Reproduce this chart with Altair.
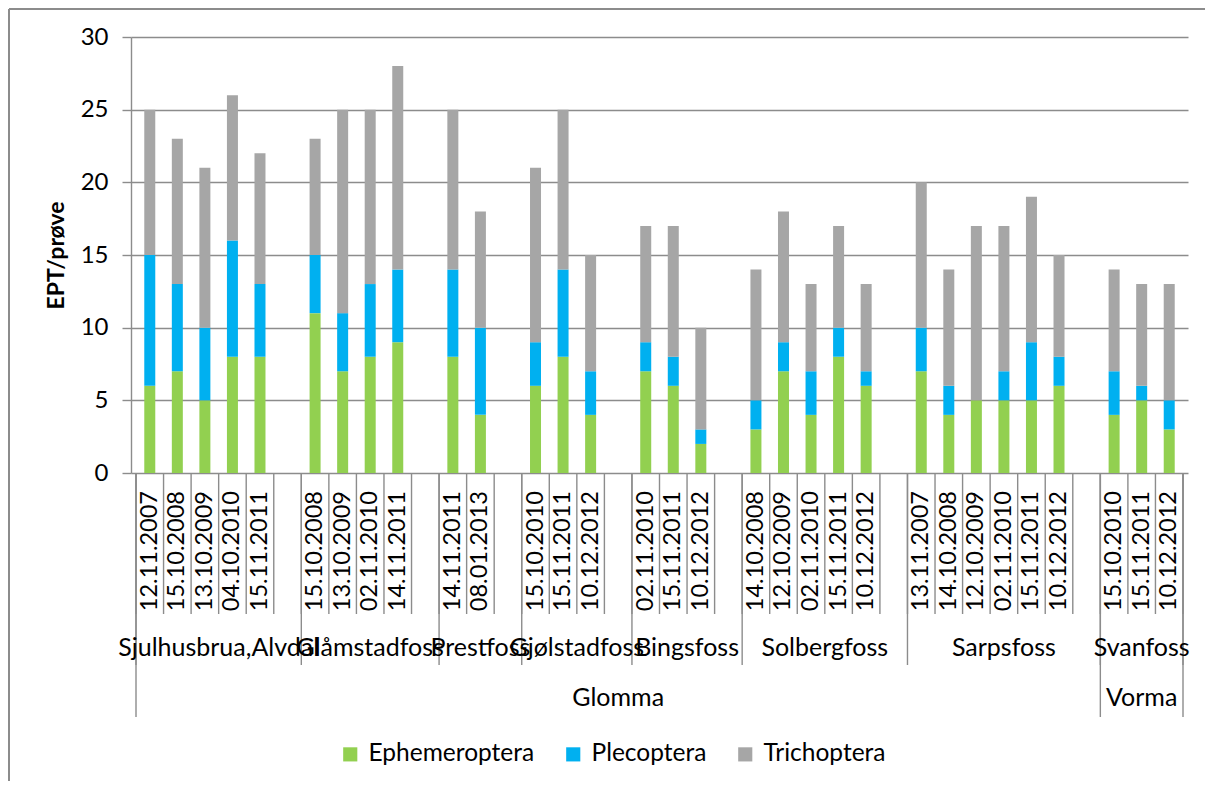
import altair as alt
import pandas as pd

# ---- data ----
stations = ["Sjulhusbrua,Alvdal", "Glåmstadfoss", "Prestfoss", "Gjølstadfoss",
            "Bingsfoss", "Solbergfoss", "Sarpsfoss", "Svanfoss"]
station_river = ["Glomma", "Glomma", "Glomma", "Glomma",
                 "Glomma", "Glomma", "Glomma", "Vorma"]
station_dates = [
    ["12.11.2007", "15.10.2008", "13.10.2009", "04.10.2010", "15.11.2011"],
    ["15.10.2008", "13.10.2009", "02.11.2010", "14.11.2011"],
    ["14.11.2011", "08.01.2013"],
    ["15.10.2010", "15.11.2011", "10.12.2012"],
    ["02.11.2010", "15.11.2011", "10.12.2012"],
    ["14.10.2008", "12.10.2009", "02.11.2010", "15.11.2011", "10.12.2012"],
    ["13.11.2007", "14.10.2008", "12.10.2009", "02.11.2010", "15.11.2011", "10.12.2012"],
    ["15.10.2010", "15.11.2011", "10.12.2012"],
]
ephemeroptera = [6, 7, 5, 8, 8, 11, 7, 8, 9, 8, 4, 6, 8, 4, 7, 6, 2,
                 3, 7, 4, 8, 6, 7, 4, 5, 5, 5, 6, 4, 5, 3]
plecoptera = [9, 6, 5, 8, 5, 4, 4, 5, 5, 6, 6, 3, 6, 3, 2, 2, 1,
              2, 2, 3, 2, 1, 3, 2, 0, 2, 4, 2, 3, 1, 2]
trichoptera = [10, 10, 11, 10, 9, 8, 14, 12, 14, 11, 8, 12, 11, 8, 8, 9, 7,
               9, 9, 6, 7, 6, 10, 8, 12, 10, 10, 7, 7, 7, 8]
taxa = ["Ephemeroptera", "Plecoptera", "Trichoptera"]
colors = ["#92D050", "#00B0F0", "#A6A6A6"]
yticks = [0, 5, 10, 15, 20, 25, 30]

# ---- build tables (slot layout: one blank category after each station) ----
bar_rows, date_rows, station_rows = [], [], []
group_bounds, river_bounds = [], []
slot = 0
k = 0
prev_river = None
for si, st in enumerate(stations):
    start = slot
    group_bounds.append(start)
    if station_river[si] != prev_river:
        river_bounds.append((start, station_river[si]))
        prev_river = station_river[si]
    for d in station_dates[si]:
        c = slot + 0.5
        date_rows.append({"pos": c, "date": d})
        for ti, (t, vals) in enumerate(zip(taxa, [ephemeroptera, plecoptera, trichoptera])):
            bar_rows.append({"pos": c, "date": d, "station": st, "taxon": t,
                             "value": vals[k], "ord": ti})
        k += 1
        slot += 1
    if si < len(stations) - 1:
        slot += 1
    station_rows.append({"pos": (start + slot) / 2, "station": st})
n_slots = slot
group_bounds.append(n_slots)

river_rows = []
rb = [b for b, _ in river_bounds] + [n_slots]
for i, (b, name) in enumerate(river_bounds):
    river_rows.append({"pos": (b + rb[i + 1]) / 2, "river": name})

bars = pd.DataFrame(bar_rows)
dates_df = pd.DataFrame(date_rows)
stations_df = pd.DataFrame(station_rows)
rivers_df = pd.DataFrame(river_rows)
slot_b = pd.DataFrame({"b": list(range(n_slots + 1))})
group_b = pd.DataFrame({"b": group_bounds})
river_b = pd.DataFrame({"b": rb})

FONT = "Lato"
W, H = 1057, 436
xs = alt.Scale(domain=[0, n_slots], nice=False, zero=False)
GRAY = "#8C8C8C"

bar_layer = alt.Chart(bars).mark_bar(size=11).encode(
    x=alt.X("pos:Q", scale=xs, axis=None),
    y=alt.Y("value:Q", stack="zero",
            scale=alt.Scale(domain=[0, 30], nice=False),
            axis=alt.Axis(values=yticks, title="EPT/prøve", grid=True,
                          gridColor=GRAY, gridWidth=1.4,
                          domainColor=GRAY, domainWidth=1.4,
                          tickColor=GRAY, tickWidth=1.4, tickSize=9,
                          labelFont=FONT, labelFontSize=24, labelColor="#000000",
                          labelPadding=14,
                          titleFont=FONT, titleFontSize=23, titleFontWeight="bold",
                          titleColor="#000000", titleAngle=270,
                          titleX=-75, titleY=218,
                          titleAlign="center", titleBaseline="middle")),
    color=alt.Color("taxon:N",
                    scale=alt.Scale(domain=taxa, range=colors),
                    legend=alt.Legend(title=None, orient="none", direction="horizontal",
                                      legendX=207, legendY=705,
                                      symbolType="square", symbolSize=200,
                                      symbolStrokeWidth=0,
                                      labelFont=FONT, labelFontSize=24.5,
                                      labelColor="#000000", labelOffset=6,
                                      labelLimit=400,
                                      columnPadding=26, padding=0)),
    order=alt.Order("ord:Q", sort="ascending"),
)

date_sep = alt.Chart(slot_b).mark_rule(color=GRAY, strokeWidth=1.4).encode(
    x=alt.X("b:Q", scale=xs), y=alt.value(H), y2=alt.value(577))
group_sep = alt.Chart(group_b).mark_rule(color=GRAY, strokeWidth=1.4).encode(
    x=alt.X("b:Q", scale=xs), y=alt.value(H), y2=alt.value(628))
river_sep = alt.Chart(river_b).mark_rule(color=GRAY, strokeWidth=1.4).encode(
    x=alt.X("b:Q", scale=xs), y=alt.value(H), y2=alt.value(680))

date_text = alt.Chart(dates_df).mark_text(
    angle=270, align="right", baseline="middle", font=FONT, fontSize=23.5,
    color="#000000").encode(
    x=alt.X("pos:Q", scale=xs), y=alt.value(454), text="date:N")

station_text = alt.Chart(stations_df).mark_text(
    align="center", baseline="middle", font=FONT, fontSize=25,
    color="#000000").encode(
    x=alt.X("pos:Q", scale=xs), y=alt.value(611), text="station:N")

river_text = alt.Chart(rivers_df).mark_text(
    align="center", baseline="middle", font=FONT, fontSize=25,
    color="#000000").encode(
    x=alt.X("pos:Q", scale=xs), y=alt.value(661), text="river:N")

border_left = alt.Chart(slot_b).mark_rule(color=GRAY, strokeWidth=2).encode(
    x=alt.value(-122), y=alt.value(-28), y2=alt.value(H + 320))
border_top = alt.Chart(slot_b).mark_rule(color=GRAY, strokeWidth=2).encode(
    x=alt.value(-122), x2=alt.value(W + 20), y=alt.value(-28))

chart = alt.layer(
    bar_layer, date_sep, group_sep, river_sep,
    date_text, station_text, river_text, border_left, border_top
).properties(
    width=W, height=H,
    autosize=alt.AutoSizeParams(type="none"),
    padding={"left": 123, "top": 29, "right": 17, "bottom": 308},
    background="#FFFFFF",
).configure_view(stroke=None)

chart.save("out.html", embed_options={"renderer": "svg", "actions": False})
